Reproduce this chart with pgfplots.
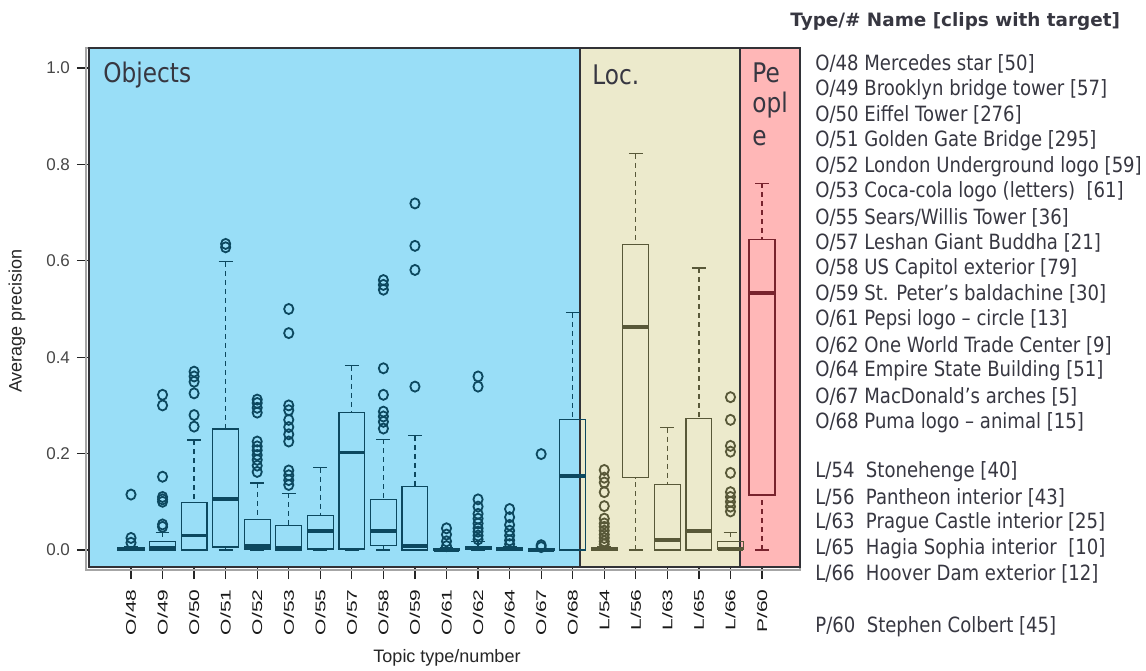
\documentclass[border=0pt]{standalone}
\usepackage{pgfplots}
\pgfplotsset{compat=1.18}
\usepgfplotslibrary{statistics}
\usepackage{fontspec}
\setmainfont{DejaVu Sans}
\newfontfamily\legfont{DejaVu Sans}[FakeStretch=0.86]
\newfontfamily\hdfont{DejaVu Sans}
\newfontfamily\tickfont{Liberation Sans}
\definecolor{bgobj}{RGB}{153,222,247}
\definecolor{bgloc}{RGB}{236,234,204}
\definecolor{bgpeo}{RGB}{255,183,183}
\definecolor{objc}{RGB}{12,72,95}
\definecolor{locc}{RGB}{88,88,56}
\definecolor{peoc}{RGB}{120,35,45}
\definecolor{framec}{RGB}{50,50,55}
\definecolor{txt}{RGB}{55,55,65}
\pgfplotsset{
  boxplot/draw/lower whisker/.code={%
    \draw[/pgfplots/boxplot/every whisker/.try, dash pattern=on 2.5pt off 2pt]
      (boxplot cs:\pgfplotsboxplotvalue{lower whisker}) -- (boxplot cs:\pgfplotsboxplotvalue{lower quartile});
    \draw[/pgfplots/boxplot/every whisker/.try]
      (boxplot whisker cs:\pgfplotsboxplotvalue{lower whisker},0) -- (boxplot whisker cs:\pgfplotsboxplotvalue{lower whisker},1);
  },
  boxplot/draw/upper whisker/.code={%
    \draw[/pgfplots/boxplot/every whisker/.try, dash pattern=on 2.5pt off 2pt]
      (boxplot cs:\pgfplotsboxplotvalue{upper whisker}) -- (boxplot cs:\pgfplotsboxplotvalue{upper quartile});
    \draw[/pgfplots/boxplot/every whisker/.try]
      (boxplot whisker cs:\pgfplotsboxplotvalue{upper whisker},0) -- (boxplot whisker cs:\pgfplotsboxplotvalue{upper whisker},1);
  },
  grp/.style={draw=#1, line width=0.6pt, mark=o, mark size=2.3pt,
    mark options={draw=#1, line width=0.9pt, solid, fill=none, yscale=1.1},
    boxplot/every median/.style={line width=1.8pt}},
  obj/.style={grp=objc},
  loc/.style={grp=locc},
  peo/.style={grp=peoc},
}
\begin{document}
\begin{tikzpicture}
\useasboundingbox[fill=white] (0,0) rectangle (573pt,335pt);
\begin{axis}[
  at={(44.5pt,51.5pt)}, anchor=south west, scale only axis,
  width=355.5pt, height=259.5pt,
  xmin=-1.331, xmax=21.204, ymin=-0.0353, ymax=1.0415,
  clip=false, axis line style={draw=none},
  boxplot/draw direction=y,
  boxplot/box extend=0.82, boxplot/whisker extend=0.44,
  xtick={0,...,20},
  xticklabels={O/48,O/49,O/50,O/51,O/52,O/53,O/55,O/57,O/58,O/59,O/61,O/62,O/64,O/67,O/68,L/54,L/56,L/63,L/65,L/66,P/60},
  ytick={0,0.2,0.4,0.6,0.8,1.0},
  yticklabel style={/pgf/number format/.cd,fixed,fixed zerofill,precision=1},
  /pgf/number format/assume math mode=true,
  tick pos=left, tick align=outside, major tick length=6pt,
  tick style={draw=black!85, line width=0.6pt},
  ticklabel style={font=\tickfont\fontsize{8.5}{10}\selectfont, text=black!72},
  xticklabel style={rotate=90, anchor=east, font=\tickfont\fontsize{7}{8}\selectfont, xscale=1.5, text=black!90},
]
\draw[gray!70, line width=0.8pt] (axis cs:-1.331,-0.0353) ++(-1.6pt,-1.6pt) rectangle (axis cs:21.204,1.0415);
\fill[bgobj] (axis cs:-1.331,-0.0353) rectangle (axis cs:14.23,1.0415);
\fill[bgloc] (axis cs:14.23,-0.0353) rectangle (axis cs:19.30,1.0415);
\fill[bgpeo] (axis cs:19.30,-0.0353) rectangle (axis cs:21.204,1.0415);
\draw[framec, line width=1.3pt] (axis cs:-1.331,-0.0353) rectangle (axis cs:14.23,1.0415);
\draw[framec, line width=1.3pt] (axis cs:14.23,-0.0353) rectangle (axis cs:19.30,1.0415);
\draw[framec, line width=1.3pt] (axis cs:19.30,-0.0353) rectangle (axis cs:21.204,1.0415);

% Objects
\addplot[obj, boxplot prepared={draw position=0, lower whisker=0, lower quartile=0, median=0.001, upper quartile=0.004, upper whisker=0.008}]
  table[row sep=\\, y index=0] {v\\0.115\\0.025\\0.015\\};
\addplot[obj, boxplot prepared={draw position=1, lower whisker=0, lower quartile=0, median=0.004, upper quartile=0.017, upper whisker=0.037}]
  table[row sep=\\, y index=0] {v\\0.048\\0.053\\0.100\\0.105\\0.110\\0.152\\0.300\\0.322\\};
\addplot[obj, boxplot prepared={draw position=2, lower whisker=0, lower quartile=0, median=0.030, upper quartile=0.098, upper whisker=0.228}]
  table[row sep=\\, y index=0] {v\\0.256\\0.280\\0.325\\0.349\\0.360\\0.370\\};
\addplot[obj, boxplot prepared={draw position=3, lower whisker=0, lower quartile=0.006, median=0.106, upper quartile=0.251, upper whisker=0.598}]
  table[row sep=\\, y index=0] {v\\0.628\\0.635\\};
\addplot[obj, boxplot prepared={draw position=4, lower whisker=0, lower quartile=0.002, median=0.008, upper quartile=0.064, upper whisker=0.139}]
  table[row sep=\\, y index=0] {v\\0.162\\0.175\\0.187\\0.197\\0.207\\0.215\\0.225\\0.285\\0.295\\0.305\\0.312\\};
\addplot[obj, boxplot prepared={draw position=5, lower whisker=0, lower quartile=0, median=0.004, upper quartile=0.050, upper whisker=0.118}]
  table[row sep=\\, y index=0] {v\\0.135\\0.145\\0.155\\0.165\\0.225\\0.240\\0.255\\0.270\\0.290\\0.300\\0.450\\0.500\\};
\addplot[obj, boxplot prepared={draw position=6, lower whisker=0, lower quartile=0.002, median=0.040, upper quartile=0.071, upper whisker=0.171}]
  coordinates {};
\addplot[obj, boxplot prepared={draw position=7, lower whisker=0, lower quartile=0.002, median=0.202, upper quartile=0.286, upper whisker=0.382}]
  coordinates {};
\addplot[obj, boxplot prepared={draw position=8, lower whisker=0, lower quartile=0.010, median=0.040, upper quartile=0.105, upper whisker=0.230}]
  table[row sep=\\, y index=0] {v\\0.252\\0.266\\0.277\\0.287\\0.322\\0.377\\0.540\\0.550\\0.560\\};
\addplot[obj, boxplot prepared={draw position=9, lower whisker=0, lower quartile=0, median=0.008, upper quartile=0.132, upper whisker=0.237}]
  table[row sep=\\, y index=0] {v\\0.339\\0.581\\0.631\\0.719\\};
\addplot[obj, boxplot prepared={draw position=10, lower whisker=0, lower quartile=0, median=0.000, upper quartile=0.002, upper whisker=0.004}]
  table[row sep=\\, y index=0] {v\\0.008\\0.018\\0.032\\0.045\\};
\addplot[obj, boxplot prepared={draw position=11, lower whisker=0, lower quartile=0.001, median=0.004, upper quartile=0.008, upper whisker=0.017}]
  table[row sep=\\, y index=0] {v\\0.022\\0.030\\0.038\\0.045\\0.055\\0.065\\0.075\\0.090\\0.105\\0.339\\0.360\\};
\addplot[obj, boxplot prepared={draw position=12, lower whisker=0, lower quartile=0, median=0.001, upper quartile=0.004, upper whisker=0.008}]
  table[row sep=\\, y index=0] {v\\0.012\\0.020\\0.030\\0.040\\0.052\\0.068\\0.085\\};
\addplot[obj, boxplot prepared={draw position=13, lower whisker=0, lower quartile=0, median=0.000, upper quartile=0.002, upper whisker=0.003}]
  table[row sep=\\, y index=0] {v\\0.006\\0.010\\0.199\\};
\addplot[obj, boxplot prepared={draw position=14, lower whisker=0, lower quartile=0, median=0.154, upper quartile=0.270, upper whisker=0.492}]
  coordinates {};
% Locations
\addplot[loc, boxplot prepared={draw position=15, lower whisker=0, lower quartile=0, median=0.001, upper quartile=0.004, upper whisker=0.008}]
  table[row sep=\\, y index=0] {v\\0.012\\0.018\\0.025\\0.032\\0.040\\0.048\\0.055\\0.065\\0.091\\0.120\\0.140\\0.150\\0.166\\};
\addplot[loc, boxplot prepared={draw position=16, lower whisker=0, lower quartile=0.150, median=0.463, upper quartile=0.633, upper whisker=0.822}]
  coordinates {};
\addplot[loc, boxplot prepared={draw position=17, lower whisker=0, lower quartile=0, median=0.021, upper quartile=0.136, upper whisker=0.254}]
  coordinates {};
\addplot[loc, boxplot prepared={draw position=18, lower whisker=0, lower quartile=0, median=0.040, upper quartile=0.272, upper whisker=0.585}]
  coordinates {};
\addplot[loc, boxplot prepared={draw position=19, lower whisker=0, lower quartile=0.001, median=0.002, upper quartile=0.017, upper whisker=0.037}]
  table[row sep=\\, y index=0] {v\\0.080\\0.090\\0.100\\0.110\\0.120\\0.160\\0.204\\0.216\\0.270\\0.317\\};
% People
\addplot[peo, boxplot prepared={draw position=20, lower whisker=0, lower quartile=0.114, median=0.533, upper quartile=0.645, upper whisker=0.761}]
  coordinates {};
\end{axis}

% region labels
\begin{scope}[every node/.style={inner sep=0pt, text=txt, font=\legfont\fontsize{13.5}{16}\selectfont}]
\node[anchor=west] at (51.5pt,297.5pt) {Objects};
\node[anchor=west] at (296pt,297.5pt) {Loc.};
\node[anchor=west] at (376pt,298.5pt) {Pe};
\node[anchor=west] at (376pt,282.5pt) {opl};
\node[anchor=west] at (376pt,266pt) {e};
\end{scope}

% axis titles
\node[rotate=90, font=\tickfont\fontsize{9}{11}\selectfont, text=black!85] at (8.5pt,174.5pt) {Average precision};
\node[font=\tickfont\fontsize{9}{11}\selectfont, text=black!85] at (223.5pt,6pt) {Topic type/number};

% legend
\node[anchor=west, inner sep=0pt, text=txt, font=\hdfont\bfseries\fontsize{9.2}{11}\selectfont] at (395pt,324pt) {Type/\# Name [clips with target]};
\begin{scope}[every node/.style={anchor=west, inner sep=0pt, text=txt, font=\legfont\fontsize{10.5}{12}\selectfont}]
\node at (407.5pt,303pt) {O/48 Mercedes star [50]};
\node at (407.5pt,290.2pt) {O/49 Brooklyn bridge tower [57]};
\node at (407.5pt,277.4pt) {O/50 Eiffel Tower [276]};
\node at (407.5pt,264.6pt) {O/51 Golden Gate Bridge [295]};
\node at (407.5pt,251.8pt) {O/52 London Underground logo [59]};
\node at (407.5pt,239pt) {O/53 Coca-cola logo (letters)\ \ [61]};
\node at (407.5pt,226.2pt) {O/55 Sears/Willis Tower [36]};
\node at (407.5pt,213.4pt) {O/57 Leshan Giant Buddha [21]};
\node at (407.5pt,200.6pt) {O/58 US Capitol exterior [79]};
\node at (407.5pt,187.8pt) {O/59 St. Peter’s baldachine [30]};
\node at (407.5pt,175pt) {O/61 Pepsi logo – circle [13]};
\node at (407.5pt,162.2pt) {O/62 One World Trade Center [9]};
\node at (407.5pt,149.4pt) {O/64 Empire State Building [51]};
\node at (407.5pt,136.6pt) {O/67 MacDonald’s arches [5]};
\node at (407.5pt,123.8pt) {O/68 Puma logo – animal [15]};
\node at (407.5pt,99pt) {L/54\ \ Stonehenge [40]};
\node at (407.5pt,86.25pt) {L/56\ \ Pantheon interior [43]};
\node at (407.5pt,73.5pt) {L/63\ \ Prague Castle interior [25]};
\node at (407.5pt,60.75pt) {L/65\ \ Hagia Sophia interior\ \ [10]};
\node at (407.5pt,48pt) {L/66\ \ Hoover Dam exterior [12]};
\node at (407.5pt,21.5pt) {P/60\ \ Stephen Colbert [45]};
\end{scope}
\end{tikzpicture}
\end{document}
